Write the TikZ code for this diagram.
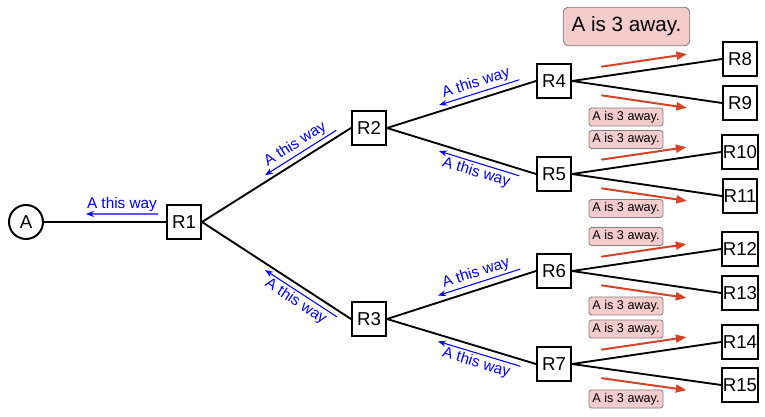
\documentclass[tikz,border=0pt]{standalone}
\usepackage{fontspec}
\setmainfont{Liberation Sans}
\usepackage{tikz}
\usetikzlibrary{arrows.meta,calc}
\usepackage{xcolor}
\definecolor{leadred}{RGB}{214,68,40}
\definecolor{tagpink}{RGB}{244,204,204}

\begin{document}
\begin{tikzpicture}[x=0.75pt,y=-0.75pt,line cap=round,
  router/.style={draw,line width=1.5pt,fill=white,minimum size=25.5pt,inner sep=0.5pt,font=\fontsize{14}{16}\selectfont},
  host/.style={draw,circle,line width=1.5pt,fill=white,minimum size=25.5pt,inner sep=0pt,font=\fontsize{14}{16}\selectfont},
  link/.style={line width=1.4pt},
  wayarrow/.style={blue,line width=0.8pt,{Stealth[length=6pt,width=4.5pt]}-},
  waytext/.style={blue,font=\fontsize{11.5}{13}\selectfont,inner sep=1.5pt},
  leadarrow/.style={leadred,line width=1.5pt,-{Triangle[length=8pt,width=6pt]}},
  awaytag/.style={draw=gray,fill=tagpink,rounded corners=2pt,line width=0.6pt,minimum width=55.5pt,minimum height=13.5pt,inner sep=1pt,font=\fontsize{9.5}{10}\selectfont}]
\useasboundingbox (0,0) rectangle (765,417);
% hosts and routers
\node[host] (A) at (26,222) {A};
\node[router] (R1) at (184,222) {R1};
\node[router] (R2) at (369,128) {R2};
\node[router] (R3) at (369,319) {R3};
\node[router] (R4) at (554,81) {R4};
\node[router] (R5) at (554,174) {R5};
\node[router] (R6) at (554,271) {R6};
\node[router] (R7) at (554,364) {R7};
\node[router] (R8) at (740,59) {R8};
\node[router] (R9) at (740,103) {R9};
\node[router] (R10) at (740,152) {R10};
\node[router] (R11) at (740,196) {R11};
\node[router] (R12) at (740,249) {R12};
\node[router] (R13) at (740,293) {R13};
\node[router] (R14) at (740,342) {R14};
\node[router] (R15) at (740,385) {R15};
% links
\draw[link] (A) -- (R1);
\draw[link] (R1.east) -- (R2.west);
\draw[link] (R1.east) -- (R3.west);
\draw[link] (R2.east) -- (R4.west);
\draw[link] (R2.east) -- (R5.west);
\draw[link] (R3.east) -- (R6.west);
\draw[link] (R3.east) -- (R7.west);
\draw[link] (R4.east) -- (R8.west);
\draw[link] (R4.east) -- (R9.west);
\draw[link] (R5.east) -- (R10.west);
\draw[link] (R5.east) -- (R11.west);
\draw[link] (R6.east) -- (R12.west);
\draw[link] (R6.east) -- (R13.west);
\draw[link] (R7.east) -- (R14.west);
\draw[link] (R7.east) -- (R15.west);
% back towards A
\draw[wayarrow] ($(A.east)!.344!(R1.west)+(0,-8)$) -- node[waytext,above]{A this way} ($(A.east)!.934!(R1.west)+(0,-8)$);
\draw[wayarrow] ($(R1.east)!.423!(R2.west)+(0,-7)$) -- node[waytext,above,sloped]{A this way} ($(R1.east)!.90!(R2.west)+(0,-7)$);
\draw[wayarrow] ($(R1.east)!.423!(R3.west)+(0,7)$) -- node[waytext,below,sloped]{A this way} ($(R1.east)!.906!(R3.west)+(0,7)$);
\draw[wayarrow] ($(R2.east)!.349!(R4.west)+(0,-6.5)$) -- node[waytext,above,sloped]{A this way} ($(R2.east)!.886!(R4.west)+(0,-6.5)$);
\draw[wayarrow] ($(R2.east)!.349!(R5.west)+(0,7)$) -- node[waytext,below,sloped]{A this way} ($(R2.east)!.886!(R5.west)+(0,7)$);
\draw[wayarrow] ($(R3.east)!.342!(R6.west)+(0,-7)$) -- node[waytext,above,sloped]{A this way} ($(R3.east)!.893!(R6.west)+(0,-7)$);
\draw[wayarrow] ($(R3.east)!.342!(R7.west)+(0,7)$) -- node[waytext,below,sloped]{A this way} ($(R3.east)!.893!(R7.west)+(0,7)$);
% onwards
\draw[leadarrow] ($(R4.east)!.2!(R8.west)+(0,-10)$) -- ($(R4.east)!.767!(R8.west)+(0,-10)$);
\draw[leadarrow] ($(R4.east)!.2!(R9.west)+(0,10)$) -- ($(R4.east)!.767!(R9.west)+(0,10)$);
\draw[leadarrow] ($(R5.east)!.2!(R10.west)+(0,-10)$) -- ($(R5.east)!.767!(R10.west)+(0,-10)$);
\draw[leadarrow] ($(R5.east)!.2!(R11.west)+(0,10)$) -- ($(R5.east)!.767!(R11.west)+(0,10)$);
\draw[leadarrow] ($(R6.east)!.2!(R12.west)+(0,-10)$) -- ($(R6.east)!.767!(R12.west)+(0,-10)$);
\draw[leadarrow] ($(R6.east)!.2!(R13.west)+(0,10)$) -- ($(R6.east)!.767!(R13.west)+(0,10)$);
\draw[leadarrow] ($(R7.east)!.2!(R14.west)+(0,-10)$) -- ($(R7.east)!.767!(R14.west)+(0,-10)$);
\draw[leadarrow] ($(R7.east)!.2!(R15.west)+(0,10)$) -- ($(R7.east)!.767!(R15.west)+(0,10)$);
\node[awaytag,rounded corners=4.5pt,minimum width=95pt,minimum height=29pt,font=\fontsize{15.5}{18}\selectfont] (tag8) at (626.5,26.5) {A is 3 away.};
\node[awaytag] (tag9) at (626,117) {A is 3 away.};
\node[awaytag] (tag10) at (626,139.5) {A is 3 away.};
\node[awaytag] (tag11) at (626,208.5) {A is 3 away.};
\node[awaytag] (tag12) at (626,236.5) {A is 3 away.};
\node[awaytag] (tag13) at (626,306) {A is 3 away.};
\node[awaytag] (tag14) at (626,329) {A is 3 away.};
\node[awaytag] (tag15) at (626,399) {A is 3 away.};
\end{tikzpicture}
\end{document}
